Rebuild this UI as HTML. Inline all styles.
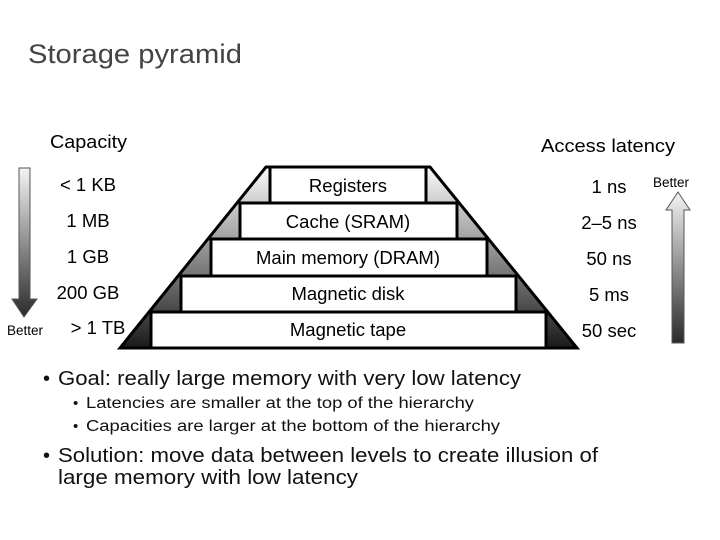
<!DOCTYPE html>
<html><head><meta charset="utf-8"><style>html,body{margin:0;padding:0;background:#fff}svg{display:block}</style></head>
<body>
<svg width="720" height="540" viewBox="0 0 720 540" xmlns="http://www.w3.org/2000/svg" font-family="Liberation Sans, Arial, sans-serif">
<defs>
<linearGradient id="g" x1="0" y1="0" x2="0" y2="1"><stop offset="0" stop-color="#fafafa"/><stop offset="1" stop-color="#1a1a1a"/></linearGradient>
<linearGradient id="ga" x1="0" y1="0" x2="0" y2="1"><stop offset="0" stop-color="#f4f4f4"/><stop offset="1" stop-color="#2a2a2a"/></linearGradient>
</defs>
<text x="28" y="63" font-size="27" fill="#444" textLength="214" lengthAdjust="spacingAndGlyphs">Storage pyramid</text>
<text x="50" y="148" font-size="18" textLength="77" lengthAdjust="spacingAndGlyphs">Capacity</text>
<text x="541" y="152" font-size="18" textLength="134" lengthAdjust="spacingAndGlyphs">Access latency</text>
<polygon points="266,167 430,167 577,348 120,348" fill="url(#g)" stroke="#000" stroke-width="3"/>
<g fill="#fff" stroke="#000" stroke-width="3">
<rect x="270" y="167" width="156" height="36"/>
<rect x="240" y="203" width="217" height="36"/>
<rect x="211" y="239" width="276" height="37"/>
<rect x="181" y="276" width="335" height="36"/>
<rect x="151" y="312" width="395" height="36"/>
</g>
<g font-size="18.5" text-anchor="middle">
<text x="348" y="192">Registers</text>
<text x="348" y="228">Cache (SRAM)</text>
<text x="348" y="264">Main memory (DRAM)</text>
<text x="348" y="300">Magnetic disk</text>
<text x="348" y="336">Magnetic tape</text>
<text x="88" y="191">&lt; 1 KB</text>
<text x="88" y="227">1 MB</text>
<text x="88" y="263">1 GB</text>
<text x="88" y="299">200 GB</text>
<text x="98" y="334">&gt; 1 TB</text>
<text x="609" y="193">1 ns</text>
<text x="609" y="229">2–5 ns</text>
<text x="609" y="265">50 ns</text>
<text x="609" y="301">5 ms</text>
<text x="609" y="337">50 sec</text>
</g>
<text x="7" y="335" font-size="13.5">Better</text>
<text x="653" y="187" font-size="13.5">Better</text>
<polygon points="19,168 30,168 30,299 37,299 24,317 12,299 19,299" fill="url(#ga)" stroke="#555" stroke-width="1"/>
<polygon points="678,192 690,210 684,210 684,343 672,343 672,210 666,210" fill="url(#ga)" stroke="#555" stroke-width="1"/>
<g fill="#111">
<text x="43" y="385" font-size="20">•</text>
<text x="58" y="385" font-size="20" textLength="463" lengthAdjust="spacingAndGlyphs">Goal: really large memory with very low latency</text>
<text x="73" y="408" font-size="15">•</text>
<text x="86" y="408" font-size="15.5" textLength="388" lengthAdjust="spacingAndGlyphs">Latencies are smaller at the top of the hierarchy</text>
<text x="73" y="431" font-size="15">•</text>
<text x="86" y="431" font-size="15.5" textLength="414" lengthAdjust="spacingAndGlyphs">Capacities are larger at the bottom of the hierarchy</text>
<text x="43" y="462" font-size="20">•</text>
<text x="58" y="462" font-size="20" textLength="540" lengthAdjust="spacingAndGlyphs">Solution: move data between levels to create illusion of</text>
<text x="58" y="484" font-size="20" textLength="300" lengthAdjust="spacingAndGlyphs">large memory with low latency</text>
</g>
</svg>
</body></html>
